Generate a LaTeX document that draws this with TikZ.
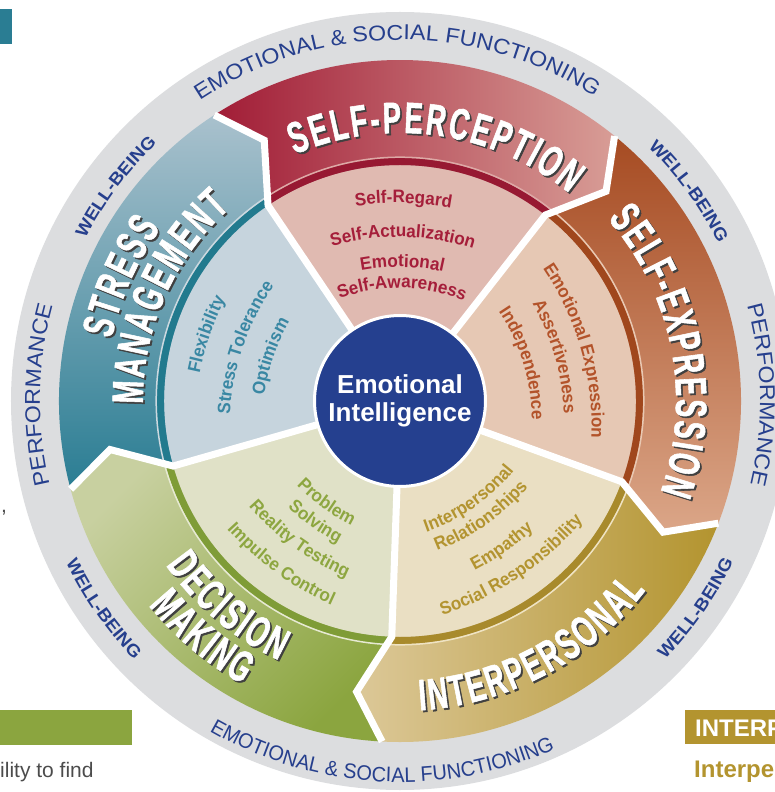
\documentclass[tikz,border=0pt]{standalone}
\usepackage{fontspec}
\setmainfont{Liberation Sans}
\newfontfamily\bandfamily[FakeStretch=0.62, BoldFeatures={FakeBold=1.2}]{Liberation Sans}
\newfontfamily\itemfamily[FakeStretch=0.95]{Liberation Sans}
\newfontfamily\ringfamily[FakeStretch=1.08]{Liberation Sans}
\usetikzlibrary{decorations.text}

\definecolor{ringgray}{HTML}{DCDDDF}
\definecolor{ringblue}{HTML}{263F8D}
\definecolor{einavy}{HTML}{25408F}
\definecolor{spdark}{HTML}{A11C36}
\definecolor{splight}{HTML}{D89D96}
\definecolor{spstripe}{HTML}{971932}
\definecolor{spline}{HTML}{DDA9A6}
\definecolor{spwedge}{HTML}{E0BAB1}
\definecolor{sptext}{HTML}{A51E3A}
\definecolor{sedark}{HTML}{A64B22}
\definecolor{selight}{HTML}{DBA688}
\definecolor{sestripe}{HTML}{A0471D}
\definecolor{seline}{HTML}{E9C8B2}
\definecolor{sewedge}{HTML}{E6C8B4}
\definecolor{setext}{HTML}{B3532A}
\definecolor{ipdark}{HTML}{B3942F}
\definecolor{iplight}{HTML}{DCC898}
\definecolor{ipstripe}{HTML}{A88A2C}
\definecolor{ipline}{HTML}{EFE3C3}
\definecolor{ipwedge}{HTML}{EADFC3}
\definecolor{iptext}{HTML}{B39430}
\definecolor{dmdark}{HTML}{8BA53F}
\definecolor{dmlight}{HTML}{C8D0A0}
\definecolor{dmstripe}{HTML}{7F9C37}
\definecolor{dmline}{HTML}{E6E9D2}
\definecolor{dmwedge}{HTML}{E0E1C7}
\definecolor{dmtext}{HTML}{8DA640}
\definecolor{smdark}{HTML}{2A7D93}
\definecolor{smlight}{HTML}{A9C1CD}
\definecolor{smstripe}{HTML}{227A8E}
\definecolor{smline}{HTML}{CBD8DF}
\definecolor{smwedge}{HTML}{C6D4DD}
\definecolor{smtext}{HTML}{3987A3}

\newcommand\bandfont{\bandfamily\bfseries\fontsize{44}{44}\selectfont}
\newcommand\itemfont{\itemfamily\bfseries\fontsize{18}{18}\selectfont}
\newcommand\ringfont{\ringfamily\fontsize{21.5}{22}\selectfont}
\newcommand\ringfontb{\itemfamily\fontsize{21}{22}\selectfont}
\newcommand\wbfont{\ringfamily\bfseries\fontsize{17.5}{18}\selectfont}
\newcommand\kk{\kern2.5pt}

% text on a circle round the centre: angle, radius, colour, font, text
\newcommand\cwtext[5]{\path[decorate, decoration={text along path, text align=center,
  text color=#3, text={|#4|#5}}] (#1+60:#2) arc[start angle=#1+60, end angle=#1-60, radius=#2];}
\newcommand\ccwtext[5]{\path[decorate, decoration={text along path, text align=center,
  text color=#3, text={|#4|#5}}] (#1-60:#2) arc[start angle=#1-60, end angle=#1+60, radius=#2];}
% flatter arcs for the items
\newcommand\cwitem[4]{\path[decorate, decoration={text along path, text align=center,
  text color=#3, text={|\itemfont|#4}}] (#1:-0.5*#2) ++(#1+35:1.5*#2) arc[start angle=#1+35, end angle=#1-35, radius=1.5*#2];}
\newcommand\ccwitem[4]{\path[decorate, decoration={text along path, text align=center,
  text color=#3, text={|\itemfont|#4}}] (#1:-0.5*#2) ++(#1-35:1.5*#2) arc[start angle=#1-35, end angle=#1+35, radius=1.5*#2];}
% white titles with a shadow
\newcommand\bigcw[3]{\path[decorate, shift={(1.8,-1.8)}, decoration={text along path, text align=center,
  text color=black!75, text={|\bandfont|#3}}] (#1+60:#2) arc[start angle=#1+60, end angle=#1-60, radius=#2];
  \cwtext{#1}{#2}{white}{\bandfont}{#3}}
\newcommand\bigccw[3]{\path[decorate, shift={(1.8,-1.8)}, decoration={text along path, text align=center,
  text color=black!75, text={|\bandfont|#3}}] (#1-60:#2) arc[start angle=#1-60, end angle=#1+60, radius=#2];
  \ccwtext{#1}{#2}{white}{\bandfont}{#3}}

\begin{document}
\begin{tikzpicture}[x=1pt, y=1pt,
  whitegap/.style={white, line width=7pt},
  spband/.style={left color=spdark, middle color=spdark!92!splight, right color=splight},
  seband/.style={top color=sedark, middle color=sedark!70!selight, bottom color=selight},
  ipband/.style={left color=iplight, middle color=ipdark, right color=ipdark},
  dmband/.style={top color=dmlight, middle color=dmdark!75!dmlight, bottom color=dmdark, shading angle=45},
  smband/.style={top color=smlight, middle color=smdark!65!smlight, bottom color=smdark}]
\useasboundingbox (-400,-391) rectangle (375,401);
\clip (-400,-391) rectangle (375,401);

% page around the wheel
\fill[smdark] (-400,392) rectangle (-388,357);
\fill[dmdark] (-400,-309) rectangle (-268,-344);
\fill[ipdark] (285,-309) rectangle (375,-343);
\node[anchor=base west, inner sep=0, text=black!70, font=\fontsize{21}{21}\selectfont] (find) at (-400,-376) {ility to find};
\node[anchor=base west, inner sep=0, text=black!70, font=\fontsize{21}{21}\selectfont] (comma) at (-399,-111) {,};
\node[anchor=base west, inner sep=0, text=white, font=\bfseries\fontsize{24}{24}\selectfont] (ipbox) at (295,-335) {INTERPERSONAL};
\node[anchor=base west, inner sep=0, text=ipdark, font=\bfseries\fontsize{24}{24}\selectfont] (iphead) at (294,-376) {Interpersonal};

\fill[ringgray] (0,0) circle (389);

\foreach \a/\c in {-20/sewedge, 52/spwedge, 124/smwedge, 196/dmwedge, 268/ipwedge}
  \fill[\c] (0,0) -- (\a:236) arc[start angle=\a, end angle=\a+72, radius=236] -- cycle;

\foreach \a/\sh in {-20/seband, 52/spband, 124/smband, 196/dmband, 268/ipband}
  \shade[\sh] (\a+72:236) arc[start angle=\a+72, end angle=\a, radius=236] -- (\a-6.5:294)
    -- (\a-1:341) arc[start angle=\a-1, end angle=\a+71, radius=341] -- (\a+65.5:294) -- cycle;

\foreach \a/\s/\l in {-20/sestripe/seline, 52/spstripe/spline, 124/smstripe/smline, 196/dmstripe/dmline, 268/ipstripe/ipline} {
  \begin{scope}
    \clip (\a+72:236) arc[start angle=\a+72, end angle=\a, radius=236] -- (\a-6.5:294)
      -- (\a-1:341) arc[start angle=\a-1, end angle=\a+71, radius=341] -- (\a+65.5:294) -- cycle;
    \draw[\s, line width=7pt] (0,0) circle (239.5);
    \draw[\l, line width=1.5pt] (0,0) circle (243.8);
  \end{scope}
}

\foreach \a in {-20,52,124,196,268}
  \draw[whitegap] (\a:80) -- (\a:236) -- (\a-6.5:294) -- (\a-1:341);

\node[circle, fill=einavy, draw=white, line width=3pt, minimum size=171pt, inner sep=0pt,
  align=center, text=white, font=\bfseries\fontsize{26}{28}\selectfont] (ei) at (0,0) {Emotional\\Intelligence};

% outer ring
\cwtext{90.5}{361}{ringblue}{\ringfont}{EMOTIONAL {\&} SOCIAL FUNCTIONING}
\ccwtext{267}{381}{ringblue}{\ringfontb}{EMOTIONAL {\&} SOCIAL FUNCTIONING}
\cwtext{179}{360}{ringblue}{\ringfont}{PERFORMANCE}
\cwtext{1}{360}{ringblue}{\ringfont}{PERFORMANCE}
\cwtext{143}{354}{ringblue}{\wbfont}{WELL-BEING}
\cwtext{36}{355}{ringblue}{\wbfont}{WELL-BEING}
\ccwtext{215}{371}{ringblue}{\wbfont}{WELL-BEING}
\ccwtext{325}{370}{ringblue}{\wbfont}{WELL-BEING}

% titles
\bigcw{82}{268}{S{\kk}E{\kk}L{\kk}F{\kk}-{\kk}P{\kk}E{\kk}R{\kk}C{\kk}E{\kk}P{\kk}T{\kk}I{\kk}O{\kk}N}
\bigcw{11}{276}{S{\kk}E{\kk}L{\kk}F{\kk}-{\kk}E{\kk}X{\kk}P{\kk}R{\kk}E{\kk}S{\kk}S{\kk}I{\kk}O{\kk}N}
\bigcw{156}{295}{S{\kk}T{\kk}R{\kk}E{\kk}S{\kk}S}
\bigcw{156}{257}{M{\kk}A{\kk}N{\kk}A{\kk}G{\kk}E{\kk}M{\kk}E{\kk}N{\kk}T}
\bigccw{230}{286}{D{\kk}E{\kk}C{\kk}I{\kk}S{\kk}I{\kk}O{\kk}N}
\bigccw{230}{324}{M{\kk}A{\kk}K{\kk}I{\kk}N{\kk}G}
\bigccw{298}{310}{I{\kk}N{\kk}T{\kk}E{\kk}R{\kk}P{\kk}E{\kk}R{\kk}S{\kk}O{\kk}N{\kk}A{\kk}L}

% items
\cwitem{89}{198}{sptext}{Self-Regard}
\cwitem{89}{164}{sptext}{Self-Actualization}
\cwitem{89}{134}{sptext}{Emotional}
\cwitem{89}{113}{sptext}{Self-Awareness}
\cwitem{16}{188}{setext}{Emotional Expression}
\cwitem{16}{161}{setext}{Assertiveness}
\cwitem{17}{129}{setext}{Independence}
\cwitem{161}{201}{smtext}{Flexibility}
\cwitem{161}{166}{smtext}{Stress Tolerance}
\cwitem{161}{134}{smtext}{Optimism}
\ccwitem{234}{132}{dmtext}{Problem}
\ccwitem{235}{154}{dmtext}{Solving}
\ccwitem{234}{181}{dmtext}{Reality Testing}
\ccwitem{234}{212}{dmtext}{Impulse Control}
\ccwitem{305}{130}{iptext}{Interpersonal}
\ccwitem{305}{151}{iptext}{Relationships}
\ccwitem{305}{184}{iptext}{Empathy}
\ccwitem{304}{213}{iptext}{Social Responsibility}
\end{tikzpicture}
\end{document}
